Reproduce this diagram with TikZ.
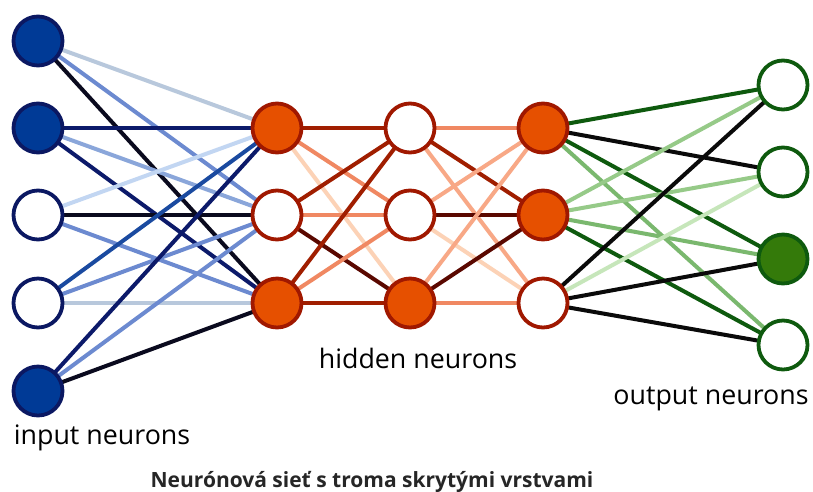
\documentclass[tikz,border=0pt]{standalone}
\usepackage{fontspec}
\setmainfont{Open Sans}
\begin{document}
\begin{tikzpicture}[x=1pt,y=-1pt,
  neuron/.style={circle,minimum size=49pt,inner sep=0pt,line width=3.8pt},
  inE/.style={neuron,draw=cNavy,fill=white},
  inF/.style={neuron,draw=cNavy,fill=cBlueF},
  hidE/.style={neuron,draw=cRedD,fill=white},
  hidF/.style={neuron,draw=cRedD,fill=cOrange},
  outE/.style={neuron,draw=cGreenD,fill=white},
  outF/.style={neuron,draw=cGreenD,fill=cGreenF},
  edge/.style={line width=4pt},
  lbl/.style={anchor=base,inner sep=0pt,font=\fontsize{26.8}{30}\selectfont}
]
\definecolor{cNavy}{HTML}{0B1862}
\definecolor{cBlueF}{HTML}{003A96}
\definecolor{cRedD}{HTML}{A01800}
\definecolor{cOrange}{HTML}{E65000}
\definecolor{cGreenD}{HTML}{0E5A0E}
\definecolor{cGreenF}{HTML}{347A0A}
% edge colours
\definecolor{bGray}{HTML}{B8C8DC}
\definecolor{bMed}{HTML}{6C8AD0}
\definecolor{bLight}{HTML}{8AA6DA}
\definecolor{bPale}{HTML}{C2D6F2}
\definecolor{bDark}{HTML}{0C1A6A}
\definecolor{bBlack}{HTML}{0A0A1E}
\definecolor{bRoyal}{HTML}{1A4AA0}
\definecolor{rDark}{HTML}{A01E00}
\definecolor{rMaroon}{HTML}{5A0800}
\definecolor{rSalmon}{HTML}{F08862}
\definecolor{rLight}{HTML}{F8A886}
\definecolor{rPeach}{HTML}{FCD2B6}
\definecolor{gDark}{HTML}{0E5A0E}
\definecolor{gMed}{HTML}{7AB86E}
\definecolor{gLight}{HTML}{96CA88}
\definecolor{gPale}{HTML}{C6E6BA}
\definecolor{gBlack}{HTML}{0A0A0A}
\useasboundingbox (0,0) rectangle (813,491);
\fill[white] (0,0) rectangle (813,491);
% coordinates of nodes
\coordinate (pI1) at (38,41);
\coordinate (pI2) at (38,128);
\coordinate (pI3) at (38,215);
\coordinate (pI4) at (38,303);
\coordinate (pI5) at (38,391);
\coordinate (pA1) at (277,128);
\coordinate (pA2) at (277,215);
\coordinate (pA3) at (277,303);
\coordinate (pB1) at (410,128);
\coordinate (pB2) at (410,215);
\coordinate (pB3) at (410,303);
\coordinate (pC1) at (543,128);
\coordinate (pC2) at (543,215);
\coordinate (pC3) at (543,303);
\coordinate (pO1) at (783,85);
\coordinate (pO2) at (783,172);
\coordinate (pO3) at (783,259);
\coordinate (pO4) at (783,345);
% input -> hidden 1
\draw[edge,bGray]  (pI1) -- (pA1);
\draw[edge,bMed]   (pI1) -- (pA2);
\draw[edge,bBlack] (pI1) -- (pA3);
\draw[edge,bDark]  (pI2) -- (pA1);
\draw[edge,bLight] (pI2) -- (pA2);
\draw[edge,bDark]  (pI2) -- (pA3);
\draw[edge,bPale]  (pI3) -- (pA1);
\draw[edge,bBlack] (pI3) -- (pA2);
\draw[edge,bMed]   (pI3) -- (pA3);
\draw[edge,bRoyal] (pI4) -- (pA1);
\draw[edge,bMed]   (pI4) -- (pA2);
\draw[edge,bGray]  (pI4) -- (pA3);
\draw[edge,bDark]  (pI5) -- (pA1);
\draw[edge,bMed]   (pI5) -- (pA2);
\draw[edge,bBlack] (pI5) -- (pA3);
% hidden 1 -> hidden 2
\draw[edge,rDark]   (pA1) -- (pB1);
\draw[edge,rSalmon] (pA1) -- (pB2);
\draw[edge,rPeach]  (pA1) -- (pB3);
\draw[edge,rDark]   (pA2) -- (pB1);
\draw[edge,rSalmon] (pA2) -- (pB2);
\draw[edge,rMaroon] (pA2) -- (pB3);
\draw[edge,rDark]   (pA3) -- (pB1);
\draw[edge,rSalmon] (pA3) -- (pB2);
\draw[edge,rDark]   (pA3) -- (pB3);
% hidden 2 -> hidden 3
\draw[edge,rSalmon] (pB1) -- (pC1);
\draw[edge,rDark]   (pB1) -- (pC2);
\draw[edge,rLight]  (pB1) -- (pC3);
\draw[edge,rLight]  (pB2) -- (pC1);
\draw[edge,rMaroon] (pB2) -- (pC2);
\draw[edge,rPeach]  (pB2) -- (pC3);
\draw[edge,rLight]  (pB3) -- (pC1);
\draw[edge,rMaroon] (pB3) -- (pC2);
\draw[edge,rSalmon] (pB3) -- (pC3);
% hidden 3 -> output
\draw[edge,gDark]  (pC1) -- (pO1);
\draw[edge,gBlack] (pC1) -- (pO2);
\draw[edge,gDark]  (pC1) -- (pO3);
\draw[edge,gMed]   (pC1) -- (pO4);
\draw[edge,gLight] (pC2) -- (pO1);
\draw[edge,gLight] (pC2) -- (pO2);
\draw[edge,gMed]   (pC2) -- (pO3);
\draw[edge,gDark]  (pC2) -- (pO4);
\draw[edge,gBlack] (pC3) -- (pO1);
\draw[edge,gPale]  (pC3) -- (pO2);
\draw[edge,gBlack] (pC3) -- (pO3);
\draw[edge,gBlack] (pC3) -- (pO4);
% neurons
\node[inF]  (I1) at (pI1) {};
\node[inF]  (I2) at (pI2) {};
\node[inE]  (I3) at (pI3) {};
\node[inE]  (I4) at (pI4) {};
\node[inF]  (I5) at (pI5) {};
\node[hidF] (A1) at (pA1) {};
\node[hidE] (A2) at (pA2) {};
\node[hidF] (A3) at (pA3) {};
\node[hidE] (B1) at (pB1) {};
\node[hidE] (B2) at (pB2) {};
\node[hidF] (B3) at (pB3) {};
\node[hidF] (C1) at (pC1) {};
\node[hidF] (C2) at (pC2) {};
\node[hidE] (C3) at (pC3) {};
\node[outE] (O1) at (pO1) {};
\node[outE] (O2) at (pO2) {};
\node[outF] (O3) at (pO3) {};
\node[outE] (O4) at (pO4) {};
% labels
\node[lbl] (tIn)  at (102,444) {input neurons};
\node[lbl] (tHid) at (418,368) {hidden neurons};
\node[lbl] (tOut) at (711,404) {output neurons};
\node[anchor=base,inner sep=0pt,text=black!85,font=\fontsize{21}{25}\selectfont\bfseries] (cap) at (372,487) {Neurónová sieť s troma skrytými vrstvami};
\end{tikzpicture}
\end{document}
